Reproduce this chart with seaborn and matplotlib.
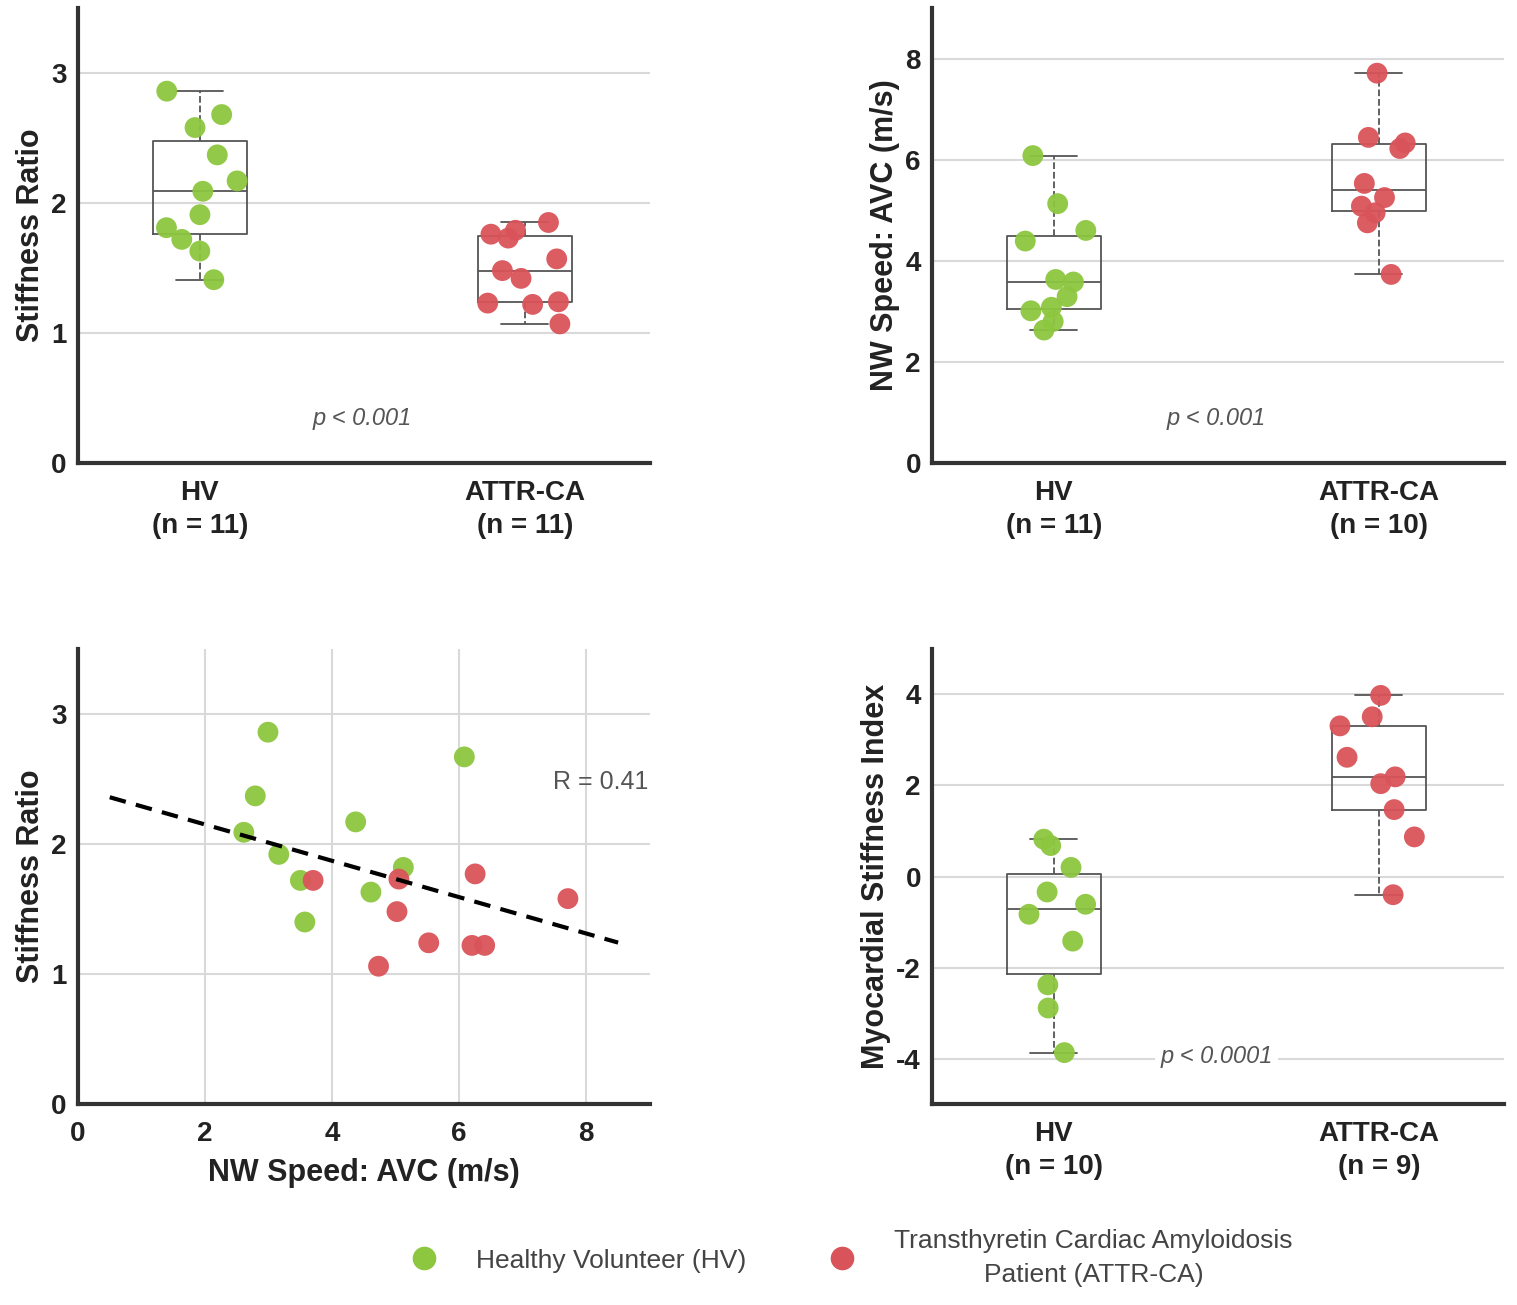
import numpy as np
import pandas as pd
import seaborn as sns
import matplotlib.pyplot as plt
from matplotlib.lines import Line2D

groups = ["HV", "ATTR-CA"]
green = "#8DC63F"
red = "#D9545A"

# Stiffness ratio
sr_hv = [2.86, 2.68, 2.58, 2.37, 2.17, 2.09, 1.91, 1.81, 1.72, 1.63, 1.41]
sr_attr = [1.85, 1.79, 1.76, 1.73, 1.57, 1.48, 1.42, 1.24, 1.23, 1.22, 1.07]

# NW speed AVC (m/s)
nw_hv = [6.08, 5.13, 4.60, 4.39, 3.63, 3.58, 3.29, 3.08, 3.01, 2.80, 2.63]
nw_attr = [7.71, 6.44, 6.33, 6.22, 5.53, 5.25, 5.08, 4.95, 4.75, 3.73]

# Myocardial stiffness index
msi_hv = [0.82, 0.68, 0.20, -0.34, -0.61, -0.83, -1.42, -2.38, -2.89, -3.87]
msi_attr = [3.98, 3.51, 3.31, 2.62, 2.19, 2.04, 1.47, 0.87, -0.40]

# scatter: NW speed vs stiffness ratio
sc_hv_x = [2.99, 2.79, 2.61, 3.16, 3.50, 3.57, 4.37, 4.61, 5.12, 6.08]
sc_hv_y = [2.86, 2.37, 2.09, 1.92, 1.72, 1.40, 2.17, 1.63, 1.82, 2.67]
sc_attr_x = [3.70, 4.73, 5.02, 5.05, 5.52, 6.20, 6.40, 6.25, 7.71]
sc_attr_y = [1.72, 1.06, 1.48, 1.73, 1.24, 1.22, 1.22, 1.77, 1.58]

sns.set_theme(style="white")
plt.rcParams["font.family"] = ["Liberation Sans", "DejaVu Sans"]
plt.rcParams["axes.unicode_minus"] = False

np.random.seed(7)

fig = plt.figure(figsize=(15.17, 13.05), dpi=100)
ax1 = fig.add_axes([0.0514, 0.6452, 0.377, 0.3487])
ax2 = fig.add_axes([0.6144, 0.6452, 0.377, 0.3487])
ax3 = fig.add_axes([0.0514, 0.154, 0.377, 0.3487])
ax4 = fig.add_axes([0.6144, 0.154, 0.377, 0.3487])


def style_axes(ax):
    for s in ["top", "right"]:
        ax.spines[s].set_visible(False)
    for s in ["left", "bottom"]:
        ax.spines[s].set_linewidth(3)
        ax.spines[s].set_color("#333333")
    ax.tick_params(direction="in", length=5, width=1.5, color="#333333",
                   labelsize=20, labelcolor="#222222", pad=8)
    ax.tick_params(axis="x", pad=12)
    for lab in ax.get_xticklabels() + ax.get_yticklabels():
        lab.set_fontweight("bold")
        lab.set_linespacing(1.35)


def box_panel(ax, hv, attr, ylim, yticks, ylabel, ptxt, py, pdata=False):
    df = pd.DataFrame({"group": ["HV"] * len(hv) + ["ATTR-CA"] * len(attr),
                       "value": hv + attr})
    ax.yaxis.grid(True, color="#d9d9d9", lw=1.5)
    ax.set_axisbelow(True)
    sns.boxplot(data=df, x="group", y="value", order=groups, ax=ax,
                width=0.29, fill=False, color="#555555", linewidth=1.3,
                showfliers=False, whiskerprops={"linestyle": "--"})
    sns.stripplot(data=df, x="group", y="value", order=groups, hue="group",
                  hue_order=groups, palette=[green, red], jitter=0.12,
                  size=15, ax=ax, legend=False, zorder=3, alpha=0.95)
    ax.set_xlim(-0.375, 1.385)
    ax.set_ylim(*ylim)
    ax.set_yticks(yticks)
    ax.set_xticks([0, 1])
    ax.set_xticklabels([f"HV\n(n = {len(hv)})", f"ATTR-CA\n(n = {len(attr)})"])
    ax.set_xlabel("")
    ax.set_ylabel(ylabel, fontsize=22, fontweight="bold", color="#222222")
    if pdata:
        ax.text(0.5, py, ptxt, ha="center", va="center", fontsize=17,
                style="italic", color="#555555",
                bbox=dict(fc="white", ec="none", pad=4), zorder=4)
    else:
        ax.text(0.5, py, ptxt, ha="center", va="center", fontsize=17,
                style="italic", color="#555555",
                transform=ax.get_xaxis_transform())
    style_axes(ax)


box_panel(ax1, sr_hv, sr_attr, (0, 3.5), [0, 1, 2, 3], "Stiffness Ratio",
          "p < 0.001", 0.097)
box_panel(ax2, nw_hv, nw_attr, (0, 9), [0, 2, 4, 6, 8], "NW Speed: AVC (m/s)",
          "p < 0.001", 0.097)
box_panel(ax4, msi_hv, msi_attr, (-5, 5), [-4, -2, 0, 2, 4],
          "Myocardial Stiffness Index", "p < 0.0001", -3.95, pdata=True)

# scatter panel
sc = pd.DataFrame({"x": sc_hv_x + sc_attr_x, "y": sc_hv_y + sc_attr_y,
                   "group": ["HV"] * len(sc_hv_x) + ["ATTR-CA"] * len(sc_attr_x)})
ax3.grid(True, color="#d9d9d9", lw=1.5)
ax3.set_axisbelow(True)
sns.scatterplot(data=sc, x="x", y="y", hue="group", hue_order=groups,
                palette=[green, red], s=225, edgecolor="none", alpha=0.95,
                ax=ax3, legend=False, zorder=3)
slope, intercept = np.polyfit(sc["x"], sc["y"], 1)
xs = np.array([0.5, 8.5])
sns.lineplot(x=xs, y=slope * xs + intercept, ax=ax3, color="black", lw=3,
             linestyle=(0, (4, 2.5)), zorder=4)
r = np.corrcoef(sc["x"], sc["y"])[0, 1]
ax3.text(8.98, 2.48, f"R = {abs(r):.2f}", ha="right", va="center",
         fontsize=18, color="#555555")
ax3.set_xlim(0, 9)
ax3.set_ylim(0, 3.5)
ax3.set_xticks([0, 2, 4, 6, 8])
ax3.set_yticks([0, 1, 2, 3])
ax3.set_xlabel("NW Speed: AVC (m/s)", fontsize=22, fontweight="bold",
               color="#222222", labelpad=8)
ax3.set_ylabel("Stiffness Ratio", fontsize=22, fontweight="bold",
               color="#222222")
style_axes(ax3)

handles = [Line2D([], [], marker="o", ls="", color=green, markersize=16),
           Line2D([], [], marker="o", ls="", color=red, markersize=16)]
leg = fig.legend(handles, ["Healthy Volunteer (HV)",
                           "Transthyretin Cardiac Amyloidosis\nPatient (ATTR-CA)"],
                 loc="center", bbox_to_anchor=(0.557, 0.036), ncol=2,
                 frameon=False, fontsize=19, handletextpad=1.0,
                 columnspacing=2.6)
for t in leg.get_texts():
    t.set_multialignment("center")
    t.set_linespacing(1.5)
    t.set_color("#444444")

fig.savefig("out.png", dpi=100)
